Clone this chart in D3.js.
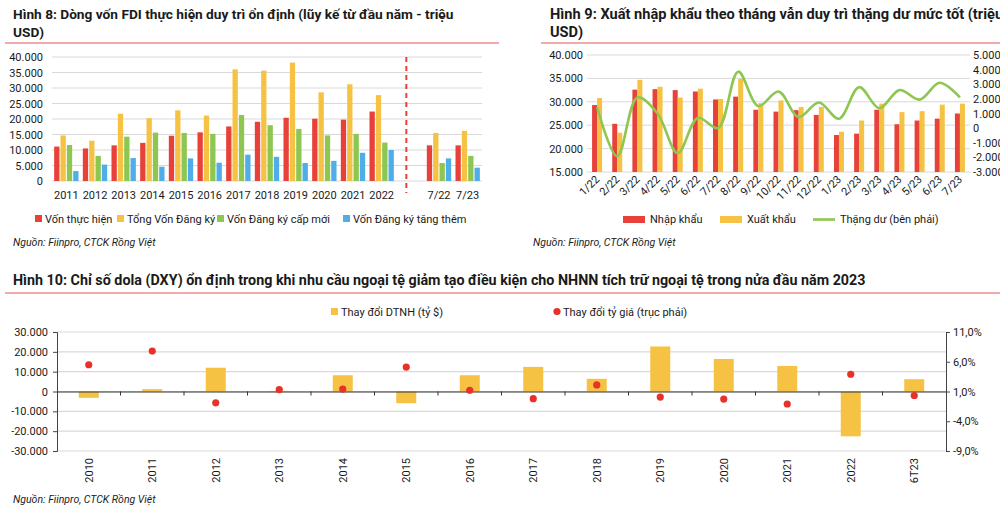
<!DOCTYPE html>
<html><head><meta charset="utf-8">
<script src="https://cdn.jsdelivr.net/npm/d3@7"></script>
<style>
body{margin:0;background:#fff;}
svg{display:block;font-family:Roboto,"Noto Sans",sans-serif;}
</style></head>
<body><svg id="c" width="1000" height="512"></svg>
<script>
// ---------- Data: Hình 8 ----------
const fdiCats = ["2011","2012","2013","2014","2015","2016","2017","2018","2019","2020","2021","2022","","7/22","7/23"];
const fdiSeries = ["Vốn thực hiện","Tổng Vốn Đăng ký","Vốn Đăng ký cấp mới","Vốn Đăng ký tăng thêm"];
const fdiThucHien = [11100,10500,11500,12300,14600,15700,17600,19100,20400,20100,19800,22400,null,11500,11500];
const fdiTongDK   = [14700,13000,21700,20300,22800,21100,36000,35600,38200,28600,31200,27700,null,15500,16200];
const fdiCapMoi   = [11600,8100,14300,15600,15500,15200,21300,18000,16800,14700,15200,12400,null,5800,8100];
const fdiTangThem = [3200,5300,7400,4600,7300,5900,8500,7800,5800,6500,9100,10000,null,7300,4300];
const fdiTicks = [0,5000,10000,15000,20000,25000,30000,35000,40000];

// ---------- Data: Hình 9 ----------
const tradeMonths = ["1/22","2/22","3/22","4/22","5/22","6/22","7/22","8/22","9/22","10/22","11/22","12/22","1/23","2/23","3/23","4/23","5/23","6/23","7/23"];
const nhapKhau = [29300,25300,32600,32700,32500,32200,30500,31100,28300,27900,28200,27200,22900,23200,28300,25200,26000,26400,27500];
const xuatKhau = [30800,23400,34700,33200,30900,32800,30600,34900,29700,30300,28900,28900,23600,26000,29600,27800,28000,29400,29600];
const thangDu  = [1430,-1930,2100,1000,-1700,700,0,3860,1500,2500,750,1750,640,2800,1360,2600,1950,3100,2100];
const tradeLeftTicks = [15000,20000,25000,30000,35000,40000];
const tradeRightTicks = [-3000,-2000,-1000,0,1000,2000,3000,4000,5000];

// ---------- Data: Hình 10 ----------
const dxyCats = ["2010","2011","2012","2013","2014","2015","2016","2017","2018","2019","2020","2021","2022","6T23"];
const dtnh = [-3200,1200,12000,300,8200,-5900,8200,12400,6400,22700,16400,12900,-22600,6200];
const tyGia = [5.5,7.8,-0.9,1.3,1.4,5.1,1.2,-0.2,2.1,0.06,-0.28,-1.1,3.9,0.33];
const dxyLeftTicks = [-30000,-20000,-10000,0,10000,20000,30000];
const dxyRightTicks = [-9,-4,1,6,11];

// ---------- Setup ----------
const loc = d3.formatLocale({decimal:",",thousands:".",grouping:[3],currency:["",""],minus:"-"});
const fmt = loc.format(",.0f");
const fmtPct = v => loc.format(".1f")(v) + "%";
const RED="#e8413a", YEL="#f6c244", GRN="#8dc650", BLU="#4fadea", GRID="#d9d9d9", TXT="#1a1a1a";
const svg = d3.select("#c");
svg.append("rect").attr("width",1000).attr("height",512).attr("fill","#fff");

function title(x,y,lines,fs){
  lines.forEach((t,i)=>svg.append("text").attr("x",x).attr("y",y+i*18).attr("font-size",fs)
    .attr("font-weight","bold").attr("fill",TXT).text(t));
}
function rule(x1,x2,y){
  svg.append("line").attr("x1",x1).attr("x2",x2).attr("y1",y).attr("y2",y)
    .attr("stroke","#e8575a").attr("stroke-width",1.2);
}
function source(x,y){
  svg.append("text").attr("x",x).attr("y",y).attr("font-size",10.5).attr("font-style","italic")
    .attr("fill",TXT).text("Nguồn: Fiinpro, CTCK Rồng Việt");
}

// ================= Hình 8 =================
title(13,19,["Hình 8: Dòng vốn FDI thực hiện duy trì ổn định (lũy kế từ đầu năm - triệu","USD)"],13.7);
rule(5,499,43);
{
  const x = d3.scaleBand().domain(fdiCats.map((d,i)=>i)).range([52,482]);
  const y = d3.scaleLinear().domain([0,40000]).range([181,57]);
  const g = svg.append("g");
  g.selectAll(".gl").data(fdiTicks).join("line").attr("x1",52).attr("x2",482)
    .attr("y1",d=>y(d)).attr("y2",d=>y(d)).attr("stroke",GRID).attr("stroke-width",1);
  const ya = g.append("g").attr("transform","translate(52,0)")
    .call(d3.axisLeft(y).tickValues(fdiTicks).tickFormat(fmt).tickSize(0).tickPadding(9));
  ya.select(".domain").remove();
  ya.selectAll("text").attr("font-size",11).attr("fill",TXT).attr("font-family","Roboto,sans-serif");
  const series = [fdiThucHien,fdiTongDK,fdiCapMoi,fdiTangThem];
  const cols = [RED,YEL,GRN,BLU];
  const bw = 5.3, step = 6.35;
  series.forEach((s,k)=>{
    g.selectAll(".b"+k).data(s.map((v,i)=>({v,i})).filter(d=>d.v!=null)).join("rect")
      .attr("x",d=>x(d.i)+x.bandwidth()/2 - 2*step + k*step + (step-bw)/2)
      .attr("width",bw).attr("y",d=>y(d.v)).attr("height",d=>y(0)-y(d.v)).attr("fill",cols[k]);
  });
  g.selectAll(".xl").data(fdiCats.map((c,i)=>({c,i})).filter(d=>d.c)).join("text")
    .attr("x",d=>x(d.i)+x.bandwidth()/2).attr("y",199).attr("text-anchor","middle")
    .attr("font-size",11).attr("fill",TXT).text(d=>d.c);
  const gx = x(12)+x.bandwidth()/2 - 4;
  g.append("line").attr("x1",gx).attr("x2",gx).attr("y1",57).attr("y2",193)
    .attr("stroke",RED).attr("stroke-width",2).attr("stroke-dasharray","5,4");
  const lx = [35,117,217,343];
  fdiSeries.forEach((s,k)=>{
    g.append("rect").attr("x",lx[k]).attr("y",215).attr("width",7).attr("height",7).attr("fill",cols[k]);
    g.append("text").attr("x",lx[k]+10).attr("y",222.5).attr("font-size",11).attr("fill",TXT).text(s);
  });
}
source(13,246);

// ================= Hình 9 =================
title(550,19,["Hình 9: Xuất nhập khẩu theo tháng vẫn duy trì thặng dư mức tốt (triệu","USD)"],14.6);
rule(541,1000,43);
{
  const x = d3.scaleBand().domain(tradeMonths).range([587,970]);
  const y = d3.scaleLinear().domain([15000,40000]).range([172,55]);
  const yr = d3.scaleLinear().domain([-3000,5000]).range([172,55]);
  const g = svg.append("g");
  g.selectAll(".gl").data(tradeLeftTicks).join("line").attr("x1",587).attr("x2",970)
    .attr("y1",d=>y(d)).attr("y2",d=>y(d)).attr("stroke",GRID);
  const ya = g.append("g").attr("transform","translate(587,0)")
    .call(d3.axisLeft(y).tickValues(tradeLeftTicks).tickFormat(fmt).tickSize(0).tickPadding(4));
  ya.select(".domain").remove();
  ya.selectAll("text").attr("font-size",11).attr("fill",TXT).attr("font-family","Roboto,sans-serif");
  const yb = g.append("g").attr("transform","translate(970,0)")
    .call(d3.axisRight(yr).tickValues(tradeRightTicks).tickFormat(fmt).tickSize(0).tickPadding(3));
  yb.select(".domain").remove();
  yb.selectAll("text").attr("font-size",11).attr("fill",TXT).attr("font-family","Roboto,sans-serif");
  const c = d => x(d)+x.bandwidth()/2;
  g.selectAll(".nk").data(tradeMonths).join("rect").attr("x",(d)=>c(d)-5).attr("width",5)
    .attr("y",(d,i)=>y(nhapKhau[i])).attr("height",(d,i)=>172-y(nhapKhau[i])).attr("fill",RED);
  g.selectAll(".xk").data(tradeMonths).join("rect").attr("x",(d)=>c(d)).attr("width",5)
    .attr("y",(d,i)=>y(xuatKhau[i])).attr("height",(d,i)=>172-y(xuatKhau[i])).attr("fill",YEL);
  const line = d3.line().x((d,i)=>c(tradeMonths[i])).y(d=>yr(d)).curve(d3.curveCatmullRom.alpha(0.5));
  g.append("path").datum(thangDu).attr("d",line).attr("fill","none").attr("stroke",GRN).attr("stroke-width",2.6);
  g.selectAll(".xl").data(tradeMonths).join("text")
    .attr("transform",d=>`translate(${c(d)+3},180) rotate(-45)`).attr("text-anchor","end")
    .attr("font-size",11).attr("fill",TXT).text(d=>d);
  g.append("rect").attr("x",623).attr("y",216).attr("width",22).attr("height",7).attr("fill",RED);
  g.append("text").attr("x",650).attr("y",223).attr("font-size",11).attr("fill",TXT).text("Nhập khẩu");
  g.append("rect").attr("x",720).attr("y",216).attr("width",22).attr("height",7).attr("fill",YEL);
  g.append("text").attr("x",747).attr("y",223).attr("font-size",11).attr("fill",TXT).text("Xuất khẩu");
  g.append("line").attr("x1",813).attr("x2",835).attr("y1",219.5).attr("y2",219.5).attr("stroke",GRN).attr("stroke-width",2.6);
  g.append("text").attr("x",840).attr("y",223).attr("font-size",11).attr("fill",TXT).text("Thặng dư (bên phải)");
}
source(533,246);

// ================= Hình 10 =================
title(13,285,["Hình 10: Chỉ số dola (DXY) ổn định trong khi nhu cầu ngoại tệ giảm tạo điều kiện cho NHNN tích trữ ngoại tệ trong nửa đầu năm 2023"],14.3);
rule(5,1000,293);
{
  const x = d3.scaleBand().domain(dxyCats).range([57,946]);
  const y = d3.scaleLinear().domain([-30000,30000]).range([451,332]);
  const yr = d3.scaleLinear().domain([-9,11]).range([451,332]);
  const g = svg.append("g");
  g.selectAll(".gl").data(dxyLeftTicks).join("line").attr("x1",57).attr("x2",946)
    .attr("y1",d=>y(d)).attr("y2",d=>y(d)).attr("stroke",GRID).attr("stroke-width",1.2);
  const ya = g.append("g").attr("transform","translate(57,0)")
    .call(d3.axisLeft(y).tickValues(dxyLeftTicks).tickFormat(fmt).tickSize(4).tickPadding(5));
  ya.selectAll("path,line").attr("stroke","#444");
  ya.selectAll("text").attr("font-size",11).attr("fill",TXT).attr("font-family","Roboto,sans-serif");
  const yb = g.append("g").attr("transform","translate(946,0)")
    .call(d3.axisRight(yr).tickValues(dxyRightTicks).tickFormat(fmtPct).tickSize(4).tickPadding(3));
  yb.selectAll("path,line").attr("stroke","#444");
  yb.selectAll("text").attr("font-size",11).attr("fill",TXT).attr("font-family","Roboto,sans-serif");
  const c = d => x(d)+x.bandwidth()/2;
  g.selectAll(".bar").data(dxyCats).join("rect").attr("x",d=>c(d)-10).attr("width",20)
    .attr("y",(d,i)=>y(Math.max(0,dtnh[i]))).attr("height",(d,i)=>Math.abs(y(dtnh[i])-y(0))).attr("fill",YEL);
  const xa = g.append("g").attr("transform",`translate(0,${y(0)})`)
    .call(d3.axisBottom(x).tickSize(0).tickFormat(""));
  xa.select(".domain").attr("stroke","#333").attr("stroke-width",1.2);
  g.selectAll(".xt").data(dxyCats.slice(1)).join("line").attr("x1",d=>x(d)).attr("x2",d=>x(d))
    .attr("y1",y(0)).attr("y2",y(0)+4).attr("stroke","#333");
  g.selectAll(".dot").data(dxyCats).join("circle").attr("cx",d=>c(d)).attr("cy",(d,i)=>yr(tyGia[i]))
    .attr("r",3.6).attr("fill","#e8312a");
  g.selectAll(".xl").data(dxyCats).join("text")
    .attr("transform",d=>`translate(${c(d)+4},458) rotate(-90)`).attr("text-anchor","end")
    .attr("font-size",11).attr("fill",TXT).text(d=>d);
  g.append("rect").attr("x",331).attr("y",308).attr("width",7).attr("height",7).attr("fill",YEL);
  g.append("text").attr("x",341).attr("y",315.5).attr("font-size",11).attr("fill",TXT).text("Thay đổi DTNH (tỷ $)");
  g.append("circle").attr("cx",557).attr("cy",311.5).attr("r",3.6).attr("fill","#e8312a");
  g.append("text").attr("x",563).attr("y",315.5).attr("font-size",11).attr("fill",TXT).text("Thay đổi tỷ giá (trục phải)");
}
source(13,503);
</script></body></html>
